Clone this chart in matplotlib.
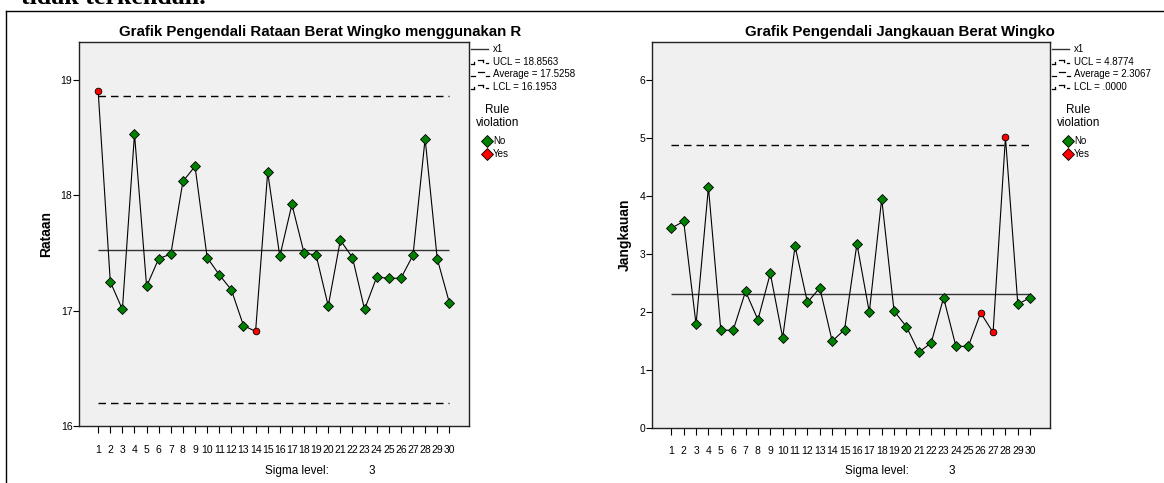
import matplotlib
matplotlib.use("Agg")
import matplotlib.pyplot as plt
from matplotlib.lines import Line2D
import numpy as np

plt.rcParams['font.family'] = ['Liberation Sans', 'DejaVu Sans']

W, H = 1164, 483

# sample number (subgroup)
samples = list(range(1, 31))

# x-bar chart values
rataan = [18.90, 17.25, 17.01, 18.53, 17.21, 17.45, 17.49, 18.12, 18.25, 17.46,
          17.31, 17.18, 16.87, 16.82, 18.20, 17.47, 17.92, 17.50, 17.48, 17.04,
          17.61, 17.46, 17.01, 17.29, 17.28, 17.28, 17.48, 18.49, 17.45, 17.07]
rataan_violations = [1, 14]
rataan_ucl, rataan_avg, rataan_lcl = 18.8563, 17.5258, 16.1953
rataan_labels = ["UCL = 18.8563", "Average = 17.5258", "LCL = 16.1953"]

# range chart values
jangkauan = [3.44, 3.56, 1.78, 4.15, 1.68, 1.68, 2.35, 1.86, 2.66, 1.55,
             3.13, 2.16, 2.41, 1.49, 1.69, 3.17, 1.99, 3.95, 2.01, 1.74,
             1.30, 1.46, 2.24, 1.40, 1.40, 1.98, 1.64, 5.01, 2.13, 2.24]
jangkauan_violations = [26, 27, 28]
jangkauan_ucl, jangkauan_avg, jangkauan_lcl = 4.8774, 2.3067, 0.0
jangkauan_labels = ["UCL = 4.8774", "Average = 2.3067", "LCL = .0000"]


def fx(px):
    return px / W


def fy(py):
    return 1 - py / H


fig = plt.figure(figsize=(W / 100, H / 100), dpi=100)


def seg(x0, y0, x1, y1, lw=0.9, color='black'):
    fig.add_artist(Line2D([fx(x0), fx(x1)], [fy(y0), fy(y1)], transform=fig.transFigure,
                          color=color, lw=lw))


def panel(left, right, top, bottom, values, bad, ucl, avg, lcl, ylim, yticks,
          ylabel, ylabel_x, title, title_x, lx, labels, sigma_x):
    ax = fig.add_axes([fx(left), fy(bottom), fx(right - left), (bottom - top) / H])
    ax.set_facecolor('#f0f0f0')
    x = np.array(samples)
    v = np.array(values)
    ok = ~np.isin(x, bad)

    ax.hlines(avg, x[0], x[-1], color='#333333', lw=1.0, zorder=2)
    for lim in (ucl, lcl):
        if ylim[0] < lim < ylim[1]:
            ax.plot([x[0], x[-1]], [lim, lim], color='black', lw=1.0, dashes=(5.4, 3.6), zorder=2)
    ax.plot(x, v, color='black', lw=0.8, zorder=3)
    ax.plot(x[ok], v[ok], 'D', ls='none', ms=4.8, mfc='#008000', mec='black', mew=0.6, zorder=4)
    ax.plot(x[~ok], v[~ok], 'o', ls='none', ms=4.8, mfc='#ff0000', mec='black', mew=0.6, zorder=4)

    ax.set_xlim(-0.6, 31.6)
    ax.set_ylim(ylim)
    ax.set_xticks(samples)
    ax.set_xticklabels([str(s) for s in samples])
    ax.set_yticks(yticks)
    ax.tick_params(axis='x', direction='out', length=5, width=0.8, pad=8.5, labelsize=7.5)
    ax.tick_params(axis='y', direction='out', length=4.3, width=0.8, pad=0.3, labelsize=7.5)
    for s in ax.spines.values():
        s.set_linewidth(1.0)
        s.set_color('#222222')

    fig.text(fx(title_x), fy(32), title, ha='center', va='center', fontsize=10.8, weight='bold')
    fig.text(fx(ylabel_x), fy((top + bottom) / 2), ylabel, rotation=90, ha='center', va='center',
             fontsize=10, weight='bold')
    fig.text(fx(sigma_x), fy(471), "Sigma level:", ha='left', va='center', fontsize=8.5)
    fig.text(fx(sigma_x + 107), fy(471), "3", ha='center', va='center', fontsize=8.5)

    # legend
    rows = [49, 62, 74.3, 87.3]
    seg(lx, rows[0], lx + 17, rows[0], lw=1.0, color='#333333')
    fig.text(fx(lx + 22), fy(rows[0]), "x1", va='center', fontsize=7)
    for i, lab in enumerate(labels):
        ly = rows[i + 1]
        if lab.startswith("Average"):
            seg(lx, ly + 1.5, lx + 4, ly + 1.5)
            seg(lx + 7, ly - 2, lx + 13, ly - 2)
            seg(lx + 15, ly + 1.5, lx + 18, ly + 1.5)
        else:
            seg(lx, ly + 2, lx + 3, ly + 2)
            seg(lx + 3, ly + 2, lx + 3, ly)
            seg(lx + 7, ly - 2, lx + 12, ly - 2)
            seg(lx + 12, ly - 2, lx + 12, ly)
            seg(lx + 15, ly + 1, lx + 17, ly + 1)
        fig.text(fx(lx + 22), fy(ly), lab, va='center', fontsize=7)
    fig.text(fx(lx + 26.5), fy(110), "Rule", ha='center', va='center', fontsize=8.5)
    fig.text(fx(lx + 26.5), fy(123), "violation", ha='center', va='center', fontsize=8.5)
    for ly, col, lab in [(140.5, '#008000', "No"), (154, '#ff0000', "Yes")]:
        fig.add_artist(Line2D([fx(lx + 15.5)], [fy(ly)], transform=fig.transFigure, marker='D',
                              ms=6.6, mfc=col, mec='black', mew=0.6, ls='none'))
        fig.text(fx(lx + 22), fy(ly), lab, va='center', fontsize=7)
    return ax


panel(78.8, 468.7, 41.7, 426, rataan, rataan_violations, rataan_ucl, rataan_avg, rataan_lcl,
      (16, 19.33), [16, 17, 18, 19], "Rataan", 46,
      "Grafik Pengendali Rataan Berat Wingko menggunakan R", 320, 471, rataan_labels, 265)

panel(651.5, 1050, 41.7, 427.5, jangkauan, jangkauan_violations, jangkauan_ucl, jangkauan_avg,
      jangkauan_lcl, (0, 6.66), [0, 1, 2, 3, 4, 5, 6], "Jangkauan", 624.7,
      "Grafik Pengendali Jangkauan Berat Wingko", 900, 1052, jangkauan_labels, 845)

# outer frame of the pasted output and the cut-off sentence above it
seg(5.5, H + 5, 5.5, 10.5, lw=1.0)
seg(5.5, 10.5, W + 5, 10.5, lw=1.0)
fig.text(fx(21), fy(3.8), "tidak terkendali.", family=['Liberation Serif', 'DejaVu Serif'],
         weight='bold', fontsize=18.6, va='baseline', ha='left')

fig.savefig("out.png", dpi=100)
